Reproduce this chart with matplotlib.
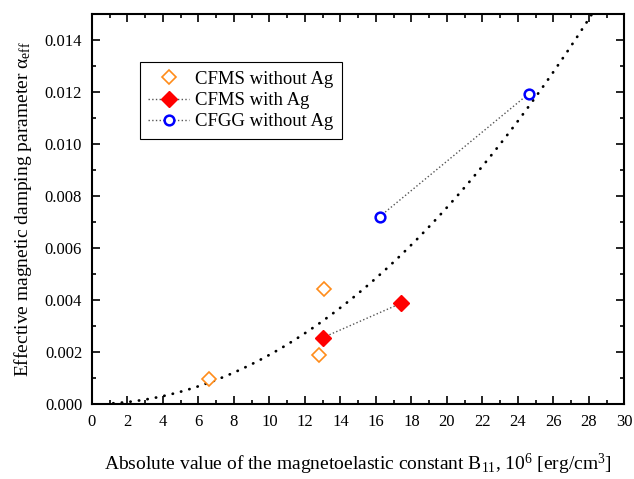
import matplotlib
matplotlib.use("Agg")
import matplotlib.pyplot as plt
import numpy as np
from matplotlib.ticker import MultipleLocator, FormatStrFormatter

plt.rcParams['font.family'] = ['Liberation Serif', 'DejaVu Serif']
plt.rcParams['mathtext.fontset'] = 'custom'
plt.rcParams['mathtext.rm'] = 'Liberation Serif'
plt.rcParams['mathtext.it'] = 'Liberation Serif'

# Data
cfms_noag_x = [6.6, 12.8, 13.1]
cfms_noag_y = [0.00095, 0.00187, 0.00443]
cfms_ag_x = [13.0, 17.4]
cfms_ag_y = [0.00255, 0.00387]
cfgg_x = [16.2, 24.6]
cfgg_y = [0.0072, 0.01193]
# quadratic fit curve y = a * x^2 (coefficient)
fit_a = 1.89e-5
fit_xrange = [1.2, 30.0]

fig = plt.figure(figsize=(6.34, 4.79), dpi=100)
ax = fig.add_axes([0.145, 0.1566, 0.84, 0.8142])

xf = np.linspace(fit_xrange[0], fit_xrange[1], 400)
ax.plot(xf, fit_a * xf**2, color='black', lw=2.0, linestyle=(0, (0.1, 3.0)),
        dash_capstyle='round', zorder=2)

ax.plot(cfms_noag_x, cfms_noag_y, linestyle='none', marker='D', ms=7,
        mfc='white', mec='#ff8c1a', mew=1.2, label='CFMS without Ag', zorder=3)
ax.plot(cfms_ag_x, cfms_ag_y, linestyle=':', color='#555555', lw=1.0, marker='D', ms=8,
        mfc='red', mec='red', label='CFMS with Ag', zorder=3)
ax.plot(cfgg_x, cfgg_y, linestyle=':', color='#555555', lw=1.0, marker='o', ms=7,
        mfc='white', mec='blue', mew=1.8, label='CFGG without Ag', zorder=3)

ax.set_xlim(0, 30)
ax.set_ylim(0, 0.015)
ax.xaxis.set_major_locator(MultipleLocator(2))
ax.xaxis.set_minor_locator(MultipleLocator(1))
ax.yaxis.set_major_locator(MultipleLocator(0.002))
ax.yaxis.set_minor_locator(MultipleLocator(0.001))
ax.yaxis.set_major_formatter(FormatStrFormatter('%.3f'))
ax.tick_params(which='both', direction='in', top=True, right=True, labelsize=12, width=1.2)
ax.tick_params(which='major', length=6, pad=7)
ax.tick_params(which='minor', length=3)
ax.set_ylim(0, 0.015)
for s in ax.spines.values():
    s.set_linewidth(1.5)

ax.set_xlabel(r'Absolute value of the magnetoelastic constant B$_{11}$, 10$^{6}$ [erg/cm$^{3}$]',
              fontsize=14, labelpad=16)
ax.set_ylabel(r'Effective magnetic damping parameter $\alpha_{\mathrm{eff}}$', fontsize=14, labelpad=8)

leg = ax.legend(loc='upper left', bbox_to_anchor=(0.072, 0.90), fontsize=13.5, frameon=True,
                fancybox=False, edgecolor='black', framealpha=1, handlelength=2.2,
                borderpad=0.45, labelspacing=0.22, handletextpad=0.3)
leg.get_frame().set_linewidth(0.8)

fig.savefig('out.png', dpi=100)
